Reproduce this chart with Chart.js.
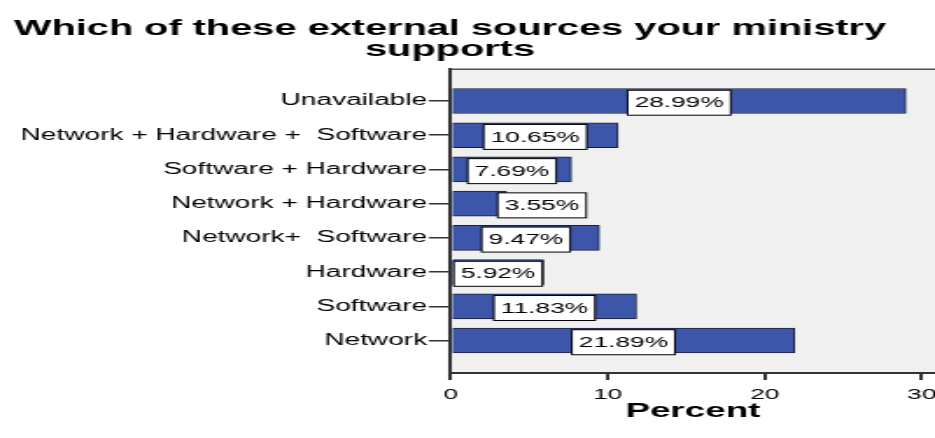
<!DOCTYPE html>
<html>
<head>
<meta charset="utf-8">
<script src="https://cdn.jsdelivr.net/npm/chart.js@4/dist/chart.umd.min.js"></script>
<style>
  html, body { margin: 0; padding: 0; background: #fff; overflow: hidden; }
  /* the chart is laid out narrow and widened horizontally */
  #frame { width: 534px; height: 438px; transform: scaleX(1.751); transform-origin: 0 0; }
</style>
</head>
<body>
<div id="frame"><canvas id="c"></canvas></div>
<script>
const titleLines = ['Which of these external sources your ministry', 'supports'];
const categories = [
  'Unavailable',
  'Network + Hardware +  Software',
  'Software + Hardware',
  'Network + Hardware',
  'Network+  Software',
  'Hardware',
  'Software',
  'Network'
];
const percents = [28.99, 10.65, 7.69, 3.55, 9.47, 5.92, 11.83, 21.89];
const xTicks = [0, 10, 20, 30];
const xTitle = 'Percent';

const FONT = "'Liberation Sans', Arial, sans-serif";

// grey plot panel, its top rule and the two-line heading
const panel = {
  id: 'panel',
  beforeDraw(chart) {
    const { ctx, chartArea: a } = chart;
    ctx.save();
    ctx.fillStyle = '#f0f0f0';
    ctx.fillRect(a.left, a.top, chart.width - a.left, a.bottom - a.top);
    ctx.strokeStyle = '#555';
    ctx.lineWidth = 1.5;
    ctx.beginPath();
    ctx.moveTo(a.left, a.top + 0.75);
    ctx.lineTo(chart.width, a.top + 0.75);
    ctx.stroke();
    ctx.fillStyle = '#000';
    ctx.font = 'bold 22.7px ' + FONT;
    ctx.textAlign = 'center';
    ctx.textBaseline = 'alphabetic';
    titleLines.forEach((t, i) => ctx.fillText(t, 257, 35 + i * 20.5));
    ctx.restore();
  }
};

// white boxes carrying each bar's percentage
const valueBoxes = {
  id: 'valueBoxes',
  afterDatasetsDraw(chart) {
    const { ctx, chartArea: a } = chart;
    const meta = chart.getDatasetMeta(0);
    ctx.save();
    ctx.font = '15px ' + FONT;
    ctx.textAlign = 'center';
    ctx.textBaseline = 'middle';
    meta.data.forEach((bar, i) => {
      const text = percents[i].toFixed(2) + '%';
      const w = ctx.measureText(text).width + 8;
      const h = 25;
      let cx = (bar.base + bar.x) / 2;
      // a box that would cross the axis starts just inside the bar's end instead
      if (cx - w / 2 < a.left + 1) cx = bar.x - 5 + w / 2;
      const cy = bar.y + 1.7;
      ctx.fillStyle = '#fff';
      ctx.fillRect(cx - w / 2, cy - h / 2, w, h);
      ctx.strokeStyle = '#000';
      ctx.lineWidth = 1;
      ctx.strokeRect(cx - w / 2, cy - h / 2, w, h);
      ctx.fillStyle = '#000';
      ctx.fillText(text, cx, cy + 0.5);
    });
    ctx.restore();
  }
};

new Chart(document.getElementById('c'), {
  type: 'bar',
  data: {
    datasets: [{
      data: categories.map((c, i) => ({ x: percents[i], y: i })),
      backgroundColor: '#3d56aa',
      borderColor: '#1c1f33',
      borderWidth: 1,
      barThickness: 25
    }]
  },
  options: {
    indexAxis: 'y',
    responsive: true,
    maintainAspectRatio: false,
    devicePixelRatio: 1,
    animation: false,
    layout: { padding: { top: 68.5, bottom: 25.1, left: 0, right: 0 } },
    plugins: { legend: { display: false }, tooltip: { enabled: false }, title: { display: false } },
    scales: {
      x: {
        type: 'linear',
        min: 0,
        max: 30.85,
        afterBuildTicks: s => { s.ticks = xTicks.map(v => ({ value: v })); },
        afterFit: s => { s.paddingLeft = 0; s.paddingRight = 0; },
        grid: { drawOnChartArea: false, drawTicks: true, tickLength: 7, color: '#333', lineWidth: 2 },
        border: { display: true, color: '#333', width: 2 },
        ticks: { font: { family: FONT, size: 15, lineHeight: 1 }, color: '#000', padding: 7.5, maxRotation: 0 },
        title: {
          display: true, text: xTitle, color: '#000',
          font: { family: FONT, size: 21, weight: 'bold', lineHeight: 0.136 },
          padding: { top: 0, bottom: 0 }
        }
      },
      y: {
        type: 'linear',
        reverse: true,
        offset: false,
        min: -0.95,
        max: categories.length - 1 + 0.95,
        afterBuildTicks: s => { s.ticks = categories.map((c, i) => ({ value: i })); },
        afterFit: s => { s.width = 257.4; s.paddingTop = 0; s.paddingBottom = 0; },
        ticks: { callback: v => categories[v], font: { family: FONT, size: 16 }, color: '#000', padding: 1, autoSkip: false },
        grid: { drawOnChartArea: false, offset: false, tickLength: 12.5, color: '#333', lineWidth: 1.5 },
        border: { display: true, color: '#333', width: 2 },
        z: 1
      }
    }
  },
  plugins: [panel, valueBoxes]
});
</script>
</body>
</html>
